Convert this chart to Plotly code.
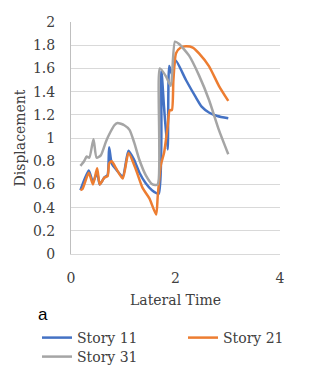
import plotly.graph_objects as go

# Story 11
x11 = [0.18, 0.34, 0.42, 0.50, 0.55, 0.64, 0.70, 0.73, 0.78, 0.86, 0.99, 1.10, 1.21, 1.31, 1.43, 1.55, 1.68,
       1.73, 1.78, 1.85, 1.88, 1.93, 2.00, 2.20, 2.39, 2.50, 2.64, 2.80, 3.01]
y11 = [0.55, 0.72, 0.62, 0.70, 0.60, 0.66, 0.68, 0.92, 0.78, 0.73, 0.67, 0.89, 0.81, 0.70, 0.61, 0.55, 0.52,
       1.58, 1.27, 0.90, 1.62, 1.55, 1.67, 1.50, 1.35, 1.27, 1.22, 1.19, 1.17]

# Story 21
x21 = [0.18, 0.22, 0.34, 0.42, 0.50, 0.55, 0.64, 0.70, 0.73, 0.78, 0.86, 0.99, 1.10, 1.24, 1.37, 1.50, 1.63,
       1.66, 1.72, 1.78, 1.85, 1.89, 1.93, 1.96, 2.01, 2.10, 2.20, 2.33, 2.45, 2.64, 2.83, 3.01]
y21 = [0.55, 0.56, 0.70, 0.60, 0.74, 0.60, 0.66, 0.67, 0.78, 0.80, 0.74, 0.65, 0.87, 0.73, 0.57, 0.48, 0.34,
       0.50, 0.77, 0.87, 1.10, 1.24, 1.24, 1.50, 1.73, 1.78, 1.79, 1.78, 1.73, 1.62, 1.45, 1.32]

# Story 31
x31 = [0.18, 0.25, 0.30, 0.35, 0.43, 0.49, 0.57, 0.67, 0.73, 0.83, 0.89, 1.02, 1.12, 1.21, 1.31, 1.43, 1.56,
       1.66, 1.70, 1.82, 1.91, 1.99, 2.07, 2.26, 2.45, 2.64, 2.83, 3.01]
y31 = [0.76, 0.80, 0.84, 0.83, 0.99, 0.83, 0.85, 0.97, 1.03, 1.11, 1.13, 1.11, 1.07, 0.96, 0.81, 0.68, 0.60,
       0.60, 1.60, 1.53, 1.45, 1.83, 1.81, 1.71, 1.54, 1.33, 1.07, 0.86]

series = [
    ("Story 11", x11, y11, "#4472C4", "legend"),
    ("Story 21", x21, y21, "#ED7D31", "legend2"),
    ("Story 31", x31, y31, "#A5A5A5", "legend3"),
]

fig = go.Figure()
for name, xs, ys, col, lg in series:
    fig.add_trace(go.Scatter(x=xs, y=ys, name=name, mode="lines", legend=lg,
                             line=dict(color=col, width=2.5, shape="spline", smoothing=0.6)))

serif = "DejaVu Serif"
txt = "#404040"
W, H = 309, 378


def legend_at(px, py_top):
    return dict(orientation="h", xref="container", yref="container",
                x=px / W, y=1 - py_top / H, xanchor="left", yanchor="top",
                itemwidth=30, font=dict(family=serif, size=14, color=txt),
                bgcolor="rgba(0,0,0,0)")


fig.update_layout(
    width=W, height=H,
    margin=dict(l=71, r=29, t=22, b=124),
    paper_bgcolor="white", plot_bgcolor="white",
    showlegend=True,
    legend=legend_at(37, 322),
    legend2=legend_at(183, 322),
    legend3=legend_at(37, 341),
    xaxis=dict(range=[0, 4], tickvals=[0, 2, 4], showgrid=False, zeroline=False,
               showline=True, linecolor="#D9D9D9", linewidth=1, ticklabelstandoff=11,
               tickfont=dict(family=serif, size=14, color=txt),
               title=dict(text="Lateral Time", font=dict(family=serif, size=14, color=txt), standoff=10)),
    yaxis=dict(range=[0, 2], dtick=0.2, tickformat="~g", showgrid=True, gridcolor="#D9D9D9", gridwidth=1,
               zeroline=False, showline=True, linecolor="#BFBFBF", linewidth=1, ticklabelstandoff=12,
               tickfont=dict(family=serif, size=14, color=txt),
               title=dict(text="Displacement", font=dict(family=serif, size=14, color=txt), standoff=4)),
    annotations=[dict(text="a", xref="paper", yref="paper", x=(43 - 71) / 209, y=-(314 - 254) / 232,
                      xanchor="center", yanchor="middle", showarrow=False,
                      font=dict(family="Liberation Sans", size=17, color="#000000"))],
)

fig.write_html("out.html")
